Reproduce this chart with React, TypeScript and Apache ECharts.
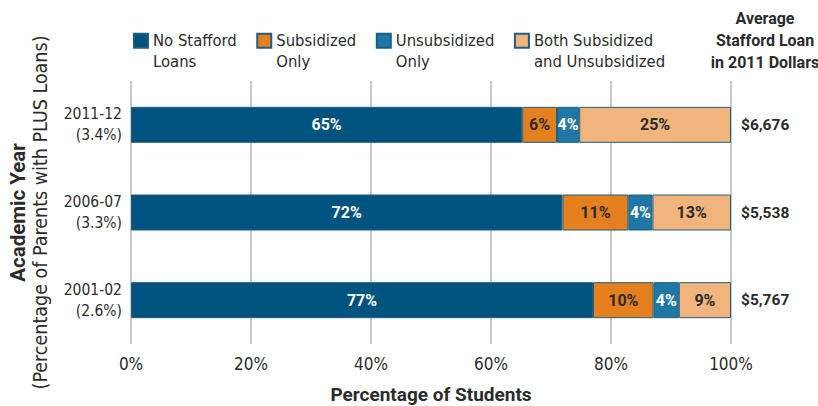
import React, { useEffect, useRef } from "react";
import * as echarts from "echarts";

const categories = ["2011-12\n(3.4%)", "2006-07\n(3.3%)", "2001-02\n(2.6%)"];
const seriesNames = [
  "No Stafford\nLoans",
  "Subsidized\nOnly",
  "Unsubsidized\nOnly",
  "Both Subsidized\nand Unsubsidized",
];
const noStafford = [65.2, 71.9, 77.0];
const subsidizedOnly = [5.8, 11.0, 10.1];
const unsubsidizedOnly = [3.7, 4.0, 4.2];
const bothLoans = [25.3, 13.1, 8.7];
const avgLoan = ["$6,676", "$5,538", "$5,767"];
const xTicks = [0, 20, 40, 60, 80, 100];

const FONT = "'DejaVu Sans Condensed', 'DejaVu Sans', sans-serif";
const BOLD = "Roboto, 'DejaVu Sans Condensed', sans-serif";
const TXT = "#2b2b2b";

export default function App() {
  const ref = useRef<HTMLDivElement>(null);
  useEffect(() => {
    if (!ref.current) return;
    const chart = echarts.init(ref.current, null, { renderer: "svg" });
    const colors = ["#00537e", "#e5801f", "#1f77a5", "#f0b47c"];
    const labelColors = ["#ffffff", TXT, "#ffffff", TXT];
    const data = [noStafford, subsidizedOnly, unsubsidizedOnly, bothLoans];
    const series = data.map((vals, i) => ({
      name: seriesNames[i],
      type: "bar",
      stack: "total",
      barWidth: 36,
      data: vals,
      itemStyle: { color: colors[i], borderColor: "#1d5f82", borderWidth: 1 },
      label: {
        show: true,
        position: "inside",
        formatter: (p: any) => Math.round(p.value) + "%",
        color: labelColors[i],
        fontFamily: BOLD,
        fontWeight: "bold",
        fontSize: 16,
      },
    }));
    chart.setOption({
      animation: false,
      textStyle: { fontFamily: FONT },
      title: {
        text: "Average\nStafford Loan\nin 2011 Dollars",
        left: 760,
        top: 2,
        textAlign: "center",
        textStyle: {
          fontFamily: BOLD,
          fontWeight: "bold",
          fontSize: 16,
          lineHeight: 22,
          color: TXT,
        },
      },
      legend: {
        left: 133,
        top: 10,
        padding: 0,
        itemGap: 19.5,
        itemWidth: 14,
        itemHeight: 14,
        icon: "rect",
        formatter: (name: string) => "\n" + name,
        textStyle: {
          fontFamily: FONT,
          fontSize: 16.5,
          lineHeight: 20.5,
          color: TXT,
        },
        data: seriesNames,
      },
      grid: { left: 131, right: 87, top: 81, bottom: 62, outerBoundsMode: "none" },
      xAxis: {
        type: "value",
        min: 0,
        max: 100,
        interval: 20,
        axisLine: { show: false },
        axisTick: { show: false },
        splitLine: { lineStyle: { color: "#c8c8c8", width: 2 } },
        axisLabel: {
          formatter: (v: number) => (xTicks.includes(v) ? v + "%" : ""),
          fontFamily: FONT,
          fontSize: 17,
          color: TXT,
          margin: 11,
        },
        name: "Percentage of Students",
        nameLocation: "middle",
        nameGap: 41,
        nameTextStyle: { fontFamily: BOLD, fontWeight: "bold", fontSize: 19, color: TXT },
      },
      yAxis: [
        {
          type: "category",
          data: categories,
          inverse: true,
          axisLine: { show: false },
          axisTick: { show: false },
          axisLabel: {
            fontFamily: FONT,
            fontSize: 15.5,
            lineHeight: 21,
            color: TXT,
            margin: 9,
            align: "right",
          },
          name: "{b|Academic Year}\n{n|(Percentage of Parents with PLUS Loans)}",
          nameLocation: "middle",
          nameRotate: 90,
          nameGap: 80,
          nameTextStyle: {
            rich: {
              b: { fontFamily: BOLD, fontWeight: "bold", fontSize: 20.5, color: TXT, lineHeight: 22 },
              n: { fontFamily: FONT, fontSize: 19.5, color: TXT, lineHeight: 22 },
            },
          },
        },
        {
          type: "category",
          data: categories,
          inverse: true,
          position: "right",
          axisLine: { show: false },
          axisTick: { show: false },
          axisLabel: {
            formatter: (_v: string, idx: number) => avgLoan[idx],
            fontFamily: BOLD,
            fontWeight: "bold",
            fontSize: 15.5,
            color: TXT,
            margin: 10,
          },
        },
      ],
      series,
    });
    return () => chart.dispose();
  }, []);
  return <div ref={ref} style={{ width: 818, height: 406, position: "absolute", left: 0, top: 0 }} />;
}
